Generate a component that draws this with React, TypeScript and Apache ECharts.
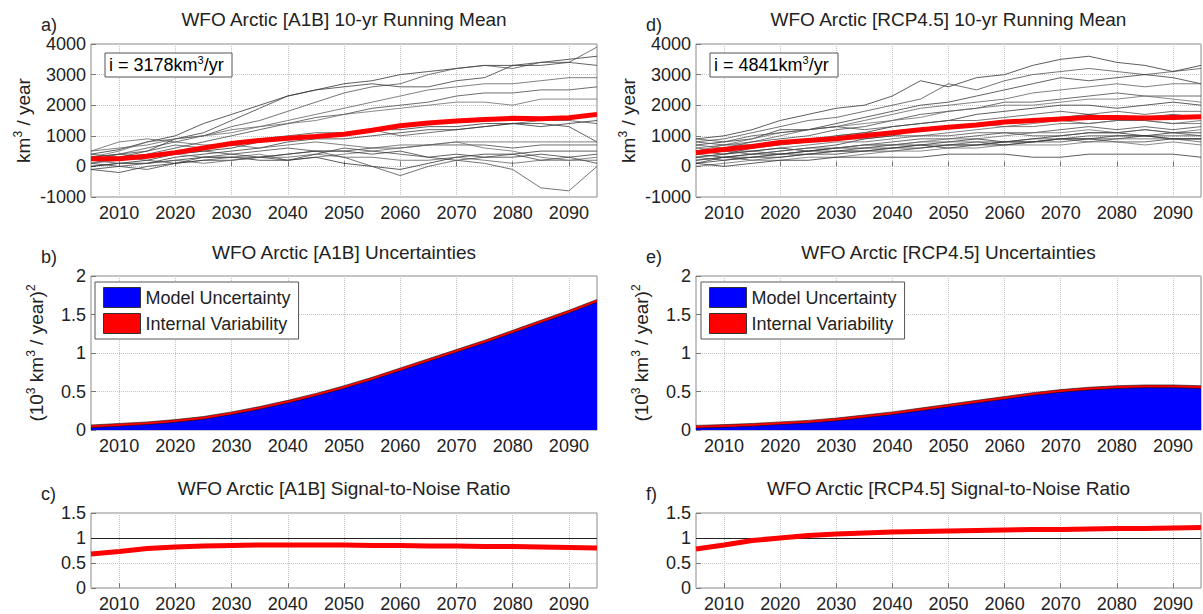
import React, { useEffect, useRef } from "react";
import * as echarts from "echarts";

const years = [2005, 2010, 2015, 2020, 2025, 2030, 2035, 2040, 2045, 2050, 2055, 2060, 2065, 2070, 2075, 2080, 2085, 2090, 2095];

// Panel a: A1B model runs (km3/yr, 10-yr running mean)
const a1bRuns = [
  [400, 550, 800, 1000, 1400, 1700, 2000, 2300, 2500, 2700, 2800, 3000, 3100, 3200, 3300, 3300, 3400, 3500, 3600],
  [300, 400, 600, 800, 1000, 1300, 1500, 1800, 2100, 2400, 2600, 2700, 3000, 3200, 3300, 3200, 3400, 3400, 3900],
  [200, 300, 500, 900, 1100, 1500, 1900, 2300, 2500, 2600, 2700, 2600, 2600, 2800, 2900, 3300, 3300, 3400, 3300],
  [500, 600, 700, 900, 1000, 1200, 1300, 1500, 1700, 1900, 2100, 2300, 2500, 2600, 2700, 2700, 2800, 2900, 2900],
  [100, 300, 400, 600, 800, 1000, 1200, 1400, 1600, 1700, 1900, 2000, 2100, 2300, 2400, 2400, 2500, 2500, 2600],
  [300, 500, 800, 900, 1000, 1100, 1300, 1400, 1500, 1700, 1800, 1900, 2000, 2100, 2100, 2000, 2200, 2200, 2200],
  [0, 100, 200, 400, 500, 600, 800, 900, 1000, 1100, 1200, 1200, 1300, 1300, 1400, 1400, 1300, 1400, 1500],
  [200, 400, 500, 700, 600, 800, 900, 1000, 1100, 1100, 1200, 1000, 1100, 1200, 1300, 1400, 1500, 1500, 1400],
  [-100, 0, 100, 300, 400, 500, 600, 800, 900, 900, 1000, 1100, 1200, 1200, 1300, 1400, 1400, 1300, 800],
  [500, 800, 900, 800, 700, 700, 600, 700, 800, 700, 600, 700, 700, 800, 800, 800, 800, 800, 800],
  [300, 400, 300, 400, 500, 400, 500, 600, 500, 500, 600, 600, 700, 700, 700, 600, 700, 700, 700],
  [100, 200, 300, 400, 300, 300, 400, 200, 300, 400, 500, 600, 700, 800, 600, 500, 300, 200, 300],
  [0, 100, 100, 200, 300, 300, 200, 200, 300, 100, 0, -100, 100, 300, 400, 400, 500, 500, 500],
  [400, 300, 200, 100, 200, 300, 300, 400, 500, 300, 0, -300, 0, 200, 100, -100, -700, -800, 0],
  [-100, -200, 0, 100, 200, 200, 300, 400, 500, 500, 400, 500, 300, 400, 300, 300, 400, 300, 400],
  [200, 100, 100, 200, 100, 200, 300, 300, 400, 300, 300, 200, 200, 300, 200, 100, 200, 200, 200],
  [100, 0, -100, 100, 300, 400, 300, 200, 400, 600, 500, 400, 300, 200, 300, 400, 200, 300, 100],
];
const a1bMean = [250, 250, 330, 450, 600, 750, 850, 920, 980, 1050, 1180, 1330, 1420, 1480, 1530, 1570, 1560, 1590, 1700];

// Panel d: RCP4.5 model runs
const rcpRuns = [
  [900, 1000, 1200, 1500, 1700, 1900, 2000, 2300, 2800, 2600, 2900, 3000, 3300, 3500, 3600, 3400, 3300, 3100, 3300],
  [800, 900, 1100, 1300, 1500, 1600, 1800, 2000, 2200, 2700, 2500, 2800, 3000, 3100, 3200, 3100, 3000, 3100, 3200],
  [700, 800, 900, 1200, 1200, 1400, 1600, 1800, 2000, 2100, 2300, 2500, 2700, 2900, 2800, 2900, 3000, 2900, 2700],
  [500, 700, 800, 1000, 1200, 1300, 1500, 1700, 1900, 2000, 2100, 2200, 2400, 2500, 2600, 2700, 2600, 2700, 2700],
  [400, 600, 800, 900, 1000, 1200, 1300, 1500, 1700, 1800, 1900, 2100, 2100, 2200, 2300, 2400, 2300, 2300, 2300],
  [600, 700, 900, 1100, 1200, 1300, 1400, 1500, 1600, 1800, 1900, 2000, 2000, 2100, 2200, 2200, 2300, 2200, 2100],
  [300, 400, 600, 700, 800, 1000, 1100, 1300, 1400, 1500, 1700, 1800, 1900, 2000, 2000, 1900, 2000, 2100, 2000],
  [900, 800, 1000, 1100, 1200, 1300, 1200, 1300, 1400, 1500, 1500, 1600, 1700, 1800, 1700, 1800, 1700, 1800, 1800],
  [200, 300, 400, 500, 600, 700, 900, 1000, 1200, 1300, 1400, 1500, 1500, 1600, 1700, 1600, 1600, 1700, 1600],
  [400, 500, 500, 600, 700, 800, 800, 900, 1000, 1100, 1200, 1300, 1300, 1400, 1400, 1500, 1500, 1400, 1400],
  [100, 300, 300, 400, 500, 600, 700, 800, 900, 900, 1000, 1100, 1100, 1200, 1300, 1200, 1300, 1200, 1300],
  [300, 400, 500, 400, 500, 600, 700, 700, 800, 900, 900, 1000, 1100, 1100, 1200, 1100, 1200, 1100, 1200],
  [500, 400, 500, 600, 500, 600, 600, 700, 700, 800, 900, 800, 900, 1000, 1100, 1100, 1000, 1100, 1100],
  [200, 300, 200, 300, 400, 500, 500, 600, 700, 700, 800, 800, 900, 900, 1000, 1000, 1000, 1000, 1000],
  [100, 200, 300, 300, 400, 400, 500, 500, 600, 700, 700, 800, 800, 900, 900, 900, 1000, 900, 900],
  [600, 500, 400, 500, 600, 600, 700, 700, 800, 800, 800, 700, 800, 900, 800, 900, 900, 900, 800],
  [300, 200, 300, 400, 400, 500, 500, 600, 600, 700, 700, 800, 800, 800, 900, 800, 800, 900, 900],
  [0, 100, 200, 200, 300, 300, 400, 500, 500, 600, 600, 700, 700, 700, 800, 800, 700, 800, 700],
  [100, 0, 100, 200, 200, 300, 300, 300, 300, 400, 400, 400, 300, 300, 400, 400, 400, 400, 300],
  [800, 700, 700, 800, 800, 900, 900, 1000, 1000, 1000, 1100, 1100, 1000, 1000, 1100, 1100, 1200, 1100, 1000],
  [400, 300, 400, 400, 500, 500, 600, 600, 700, 600, 700, 700, 800, 900, 900, 1000, 1000, 900, 900],
  [700, 600, 700, 800, 900, 1000, 1100, 1100, 1200, 1300, 1400, 1300, 1400, 1500, 1400, 1500, 1500, 1400, 1500],
];
const rcpMean = [450, 550, 650, 780, 850, 900, 1000, 1100, 1200, 1280, 1350, 1450, 1500, 1550, 1600, 1600, 1580, 1600, 1620];

// Panels b/e: uncertainties ((10^3 km3/yr)^2)
const a1bModelUnc = [0.03, 0.05, 0.07, 0.1, 0.14, 0.2, 0.27, 0.35, 0.44, 0.54, 0.65, 0.77, 0.89, 1.01, 1.13, 1.26, 1.39, 1.52, 1.66];
const a1bInternal = [0.035, 0.035, 0.035, 0.035, 0.035, 0.035, 0.035, 0.035, 0.035, 0.035, 0.035, 0.035, 0.035, 0.035, 0.035, 0.035, 0.035, 0.035, 0.035];
const rcpModelUnc = [0.025, 0.035, 0.05, 0.07, 0.09, 0.12, 0.16, 0.2, 0.25, 0.3, 0.35, 0.4, 0.45, 0.49, 0.52, 0.54, 0.55, 0.55, 0.54];
const rcpInternal = [0.035, 0.035, 0.035, 0.035, 0.035, 0.035, 0.035, 0.035, 0.035, 0.035, 0.035, 0.035, 0.035, 0.035, 0.035, 0.035, 0.035, 0.035, 0.035];

// Panels c/f: signal-to-noise ratio
const a1bSnr = [0.68, 0.73, 0.79, 0.82, 0.84, 0.85, 0.86, 0.86, 0.86, 0.86, 0.85, 0.85, 0.84, 0.84, 0.83, 0.83, 0.82, 0.81, 0.8];
const rcpSnr = [0.78, 0.86, 0.95, 1.0, 1.05, 1.08, 1.1, 1.12, 1.13, 1.14, 1.15, 1.16, 1.17, 1.17, 1.18, 1.19, 1.19, 1.2, 1.21];

const titles = [
  "WFO Arctic [A1B] 10-yr Running Mean",
  "WFO Arctic [RCP4.5] 10-yr Running Mean",
  "WFO Arctic [A1B] Uncertainties",
  "WFO Arctic [RCP4.5] Uncertainties",
  "WFO Arctic [A1B] Signal-to-Noise Ratio",
  "WFO Arctic [RCP4.5] Signal-to-Noise Ratio",
];
const panelLetters = ["a)", "d)", "b)", "e)", "c)", "f)"];
const legendNames = ["Model Uncertainty", "Internal Variability"];
const insetA = "i = 3178km";
const insetD = "i = 4841km";

const FONT = "'Liberation Sans', Arial, Helvetica, sans-serif";
const TXT = "#222";
const grays = ["#2a2a2a", "#4a4a4a", "#333", "#5a5a5a", "#404040", "#666"];

const pairs = (vals: number[]) => years.map((y, i) => [y, vals[i]]);
const stackedPairs = (base: number[], top: number[]) => years.map((y, i) => [y, base[i] + top[i]]);

const grids = [
  { left: 91, top: 44, width: 506, height: 153 },
  { left: 696, top: 44, width: 505, height: 153 },
  { left: 91, top: 276, width: 506, height: 154 },
  { left: 696, top: 276, width: 505, height: 154 },
  { left: 91, top: 513, width: 506, height: 75 },
  { left: 696, top: 513, width: 505, height: 75 },
];
const titleY = [10, 10, 243, 243, 479, 479];
const letterY = [25, 25, 257, 257, 494, 494];

function buildOption() {
  const rich = {
    m: { fontSize: 19, color: TXT, fontFamily: FONT, lineHeight: 22 },
    s: { fontSize: 12, color: TXT, fontFamily: FONT, verticalAlign: "top", lineHeight: 22 },
  };
  const richInset = {
    m: { fontSize: 18, color: TXT, fontFamily: FONT, lineHeight: 21 },
    s: { fontSize: 11, color: TXT, fontFamily: FONT, verticalAlign: "top", lineHeight: 21 },
  };
  const fmt = (v: number) => String(v);
  const xAxis = grids.map((_, i) => ({
    type: "value",
    gridIndex: i,
    min: 2005,
    max: 2095,
    splitNumber: 9,
    axisLine: { show: false },
    axisTick: { show: true, inside: true, length: 5, lineStyle: { color: "#777" } },
    axisLabel: { showMinLabel: false, showMaxLabel: false, fontSize: 18, color: TXT, fontFamily: FONT, margin: 7, formatter: fmt },
    splitLine: { show: true, lineStyle: { type: "dotted", color: "#c4c4c4", width: 1 } },
  }));
  const yRanges = [
    [-1000, 4000, 1000],
    [-1000, 4000, 1000],
    [0, 2, 0.5],
    [0, 2, 0.5],
    [0, 1.5, 0.5],
    [0, 1.5, 0.5],
  ];
  const yNames = [
    "{m|km}{s|3}{m| / year}",
    "{m|km}{s|3}{m| / year}",
    "{m|(10}{s|3}{m| km}{s|3}{m| / year)}{s|2}",
    "{m|(10}{s|3}{m| km}{s|3}{m| / year)}{s|2}",
    "",
    "",
  ];
  const nameGaps = [57, 57, 44, 44, 0, 0];
  const yAxis = grids.map((_, i) => ({
    type: "value",
    gridIndex: i,
    min: yRanges[i][0],
    max: yRanges[i][1],
    interval: yRanges[i][2],
    name: yNames[i],
    nameLocation: "middle",
    nameRotate: 90,
    nameGap: nameGaps[i],
    nameTextStyle: { rich },
    axisLine: { show: false },
    axisTick: { show: true, inside: true, length: 5, lineStyle: { color: "#777" } },
    axisLabel: { fontSize: 18, color: TXT, fontFamily: FONT, margin: 5, formatter: fmt },
    splitLine: { show: true, lineStyle: { type: "dotted", color: "#c4c4c4", width: 1 } },
  }));

  const series: any[] = [];
  const runSeries = (runs: number[][], gi: number) =>
    runs.forEach((r, k) =>
      series.push({
        type: "line",
        xAxisIndex: gi,
        yAxisIndex: gi,
        data: pairs(r),
        symbol: "none",
        silent: true,
        lineStyle: { color: grays[k % grays.length], width: 0.9, opacity: 0.85 },
        z: 2,
      })
    );
  runSeries(a1bRuns, 0);
  runSeries(rcpRuns, 1);
  series.push({
    type: "line", xAxisIndex: 0, yAxisIndex: 0, data: pairs(a1bMean), symbol: "none",
    lineStyle: { color: "#ff0000", width: 5 }, z: 5,
  });
  series.push({
    type: "line", xAxisIndex: 1, yAxisIndex: 1, data: pairs(rcpMean), symbol: "none",
    lineStyle: { color: "#ff0000", width: 5 }, z: 5,
  });
  const uncSeries = (model: number[], internal: number[], gi: number) => {
    // internal variability drawn on top of model uncertainty: area from 0 to (model + internal), blue covers the lower part
    series.push({
      name: legendNames[1], type: "line", xAxisIndex: gi, yAxisIndex: gi,
      data: stackedPairs(model, internal), symbol: "none",
      lineStyle: { color: "#111", width: 0.6 },
      itemStyle: { color: "#ff0000" },
      areaStyle: { color: "#ff0000", opacity: 1 }, z: 3,
    });
    series.push({
      name: legendNames[0], type: "line", xAxisIndex: gi, yAxisIndex: gi,
      data: pairs(model), symbol: "none",
      lineStyle: { color: "#111", width: 0.6 },
      itemStyle: { color: "#0000ff" },
      areaStyle: { color: "#0000ff", opacity: 1 }, z: 4,
    });
  };
  uncSeries(a1bModelUnc, a1bInternal, 2);
  uncSeries(rcpModelUnc, rcpInternal, 3);
  const snrSeries = (vals: number[], gi: number) =>
    series.push({
      type: "line", xAxisIndex: gi, yAxisIndex: gi, data: pairs(vals), symbol: "none",
      lineStyle: { color: "#ff0000", width: 5 }, z: 5,
      markLine: {
        silent: true, symbol: "none", label: { show: false },
        lineStyle: { color: "#222", width: 1, type: "solid" },
        data: [{ yAxis: 1 }],
        z: 4,
      },
    });
  snrSeries(a1bSnr, 4);
  snrSeries(rcpSnr, 5);

  const legendData = [
    { name: legendNames[0], icon: "rect", itemStyle: { color: "#0000ff", borderColor: "#333", borderWidth: 1 } },
    { name: legendNames[1], icon: "rect", itemStyle: { color: "#ff0000", borderColor: "#333", borderWidth: 1 } },
  ];
  const legendCommon = {
    top: 282,
    orient: "vertical",
    data: legendData,
    selectedMode: false,
    itemWidth: 37,
    itemHeight: 20,
    itemGap: 5,
    padding: [5, 8, 5, 8],
    backgroundColor: "#fff",
    borderColor: "#555",
    borderWidth: 1,
    borderRadius: 0,
    textStyle: { fontSize: 18, color: TXT, fontFamily: FONT },
  };

  const graphic: any[] = [];
  grids.forEach((g, i) => {
    graphic.push({
      type: "text", x: g.left - 50, y: letterY[i],
      style: { text: panelLetters[i], fontSize: 18, fill: TXT, fontFamily: FONT, textVerticalAlign: "middle" },
    });
  });
  const inset = (x: number, w: number, txt: string) => {
    graphic.push({
      type: "rect", shape: { x, y: 53, width: w, height: 24 },
      style: { fill: "#fff", stroke: "#555", lineWidth: 1 }, z: 10,
    });
    graphic.push({
      type: "text", x: x + 4, y: 65, z: 11,
      style: {
        text: "{m|" + txt + "}{s|3}{m|/yr}",
        rich: richInset,
        textVerticalAlign: "middle",
      },
    });
  };
  inset(105, 127, insetA);
  inset(710, 128, insetD);

  return {
    animation: false,
    backgroundColor: "#fff",
    title: grids.map((g, i) => ({
      text: titles[i],
      left: g.left + g.width / 2,
      top: titleY[i],
      textAlign: "center",
      padding: 0,
      textStyle: { fontSize: 19, fontWeight: "normal", color: TXT, fontFamily: FONT },
    })),
    grid: grids.map((g) => ({ ...g, show: true, borderColor: "#8a8a8a", borderWidth: 1, backgroundColor: "transparent" })),
    xAxis,
    yAxis,
    legend: [
      { ...legendCommon, left: 95 },
      { ...legendCommon, left: 701 },
    ],
    series,
    graphic,
  };
}

export default function App() {
  const ref = useRef<HTMLDivElement>(null);
  useEffect(() => {
    if (!ref.current) return;
    const chart = echarts.init(ref.current, null, { renderer: "svg" });
    chart.setOption(buildOption() as any);
    return () => chart.dispose();
  }, []);
  return <div ref={ref} style={{ position: "absolute", left: 0, top: 0, width: 1203, height: 614 }} />;
}
